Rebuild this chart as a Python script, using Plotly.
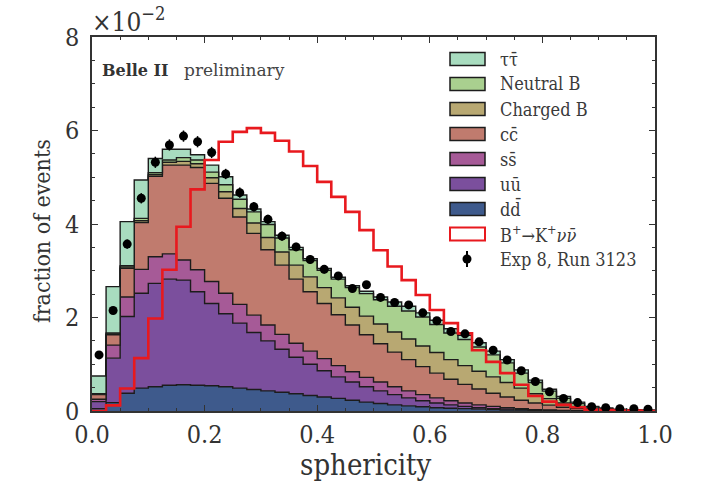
import numpy as np
import plotly.graph_objects as go

# ---- data (units of 1e-2, fraction of events per bin of width 0.025) ----
bin_edges = np.linspace(0.0, 1.0, 41)

dd = [0.05,0.18,0.38,0.49,0.52,0.55,0.56,0.55,0.54,0.52,0.49,0.46,0.43,0.40,0.37,0.33,0.30,0.27,0.23,0.19,
      0.16,0.13,0.11,0.09,0.07,0.06,0.05,0.04,0.03,0.02,0.02,0.01,0.01,0.005,0.003,0.002,0.001,0,0,0]
uu = [0.15,0.95,1.64,2.03,2.21,2.27,2.24,2.00,1.76,1.56,1.39,1.22,1.07,0.92,0.78,0.67,0.56,0.46,0.39,0.33,
      0.27,0.22,0.17,0.13,0.10,0.07,0.05,0.03,0.02,0.02,0.01,0.01,0.005,0.002,0.001,0,0,0,0,0]
ss = [0.05,0.28,0.42,0.51,0.57,0.54,0.43,0.47,0.47,0.44,0.40,0.37,0.34,0.32,0.30,0.28,0.26,0.24,0.22,0.20,
      0.19,0.17,0.15,0.13,0.11,0.09,0.07,0.06,0.05,0.03,0.02,0.01,0.01,0.004,0.002,0.001,0,0,0,0]
cc = [0.10,0.22,0.61,1.00,1.72,1.90,2.03,2.19,2.10,2.03,1.87,1.75,1.61,1.48,1.37,1.27,1.18,1.09,1.00,0.91,
      0.82,0.74,0.67,0.60,0.53,0.46,0.40,0.34,0.28,0.23,0.18,0.14,0.10,0.07,0.044,0.027,0.019,0.01,0.005,0]
charged_b = [0.01,0.02,0.03,0.04,0.04,0.06,0.08,0.08,0.12,0.14,0.18,0.22,0.26,0.28,0.30,0.32,0.34,0.36,0.38,0.40,
             0.42,0.43,0.44,0.44,0.44,0.42,0.40,0.38,0.35,0.31,0.26,0.20,0.14,0.09,0.05,0.03,0.02,0.01,0,0]
neutral_b = [0.01,0.02,0.03,0.05,0.04,0.05,0.08,0.08,0.12,0.15,0.20,0.24,0.28,0.30,0.33,0.35,0.37,0.40,0.42,0.48,
             0.52,0.55,0.60,0.62,0.60,0.57,0.56,0.52,0.47,0.42,0.32,0.24,0.16,0.10,0.06,0.03,0.02,0.01,0,0]
tautau = [0.38,0.99,0.94,0.82,0.30,0.23,0.18,0.11,0.15,0.17,0.09,0.06,0.06,0.06,0.05,0.04,0.04,0.04,0.04,0.05,
          0.06,0.09,0.10,0.09,0.09,0.09,0.09,0.09,0.08,0.07,0.07,0.05,0.04,0.04,0.03,0.01,0.00,0.01,0.025,0.02]
signal = [0.0,0.12,0.48,1.13,1.98,3.02,3.94,4.74,5.37,5.76,5.97,6.05,5.95,5.78,5.55,5.24,4.90,4.58,4.26,3.87,
          3.44,3.09,2.80,2.48,2.16,1.88,1.66,1.30,1.05,0.81,0.56,0.32,0.20,0.13,0.08,0.03,0.02,0.01,0.01,0.0]
data_y = [1.20,2.15,3.57,4.55,5.32,5.69,5.88,5.76,5.53,5.07,4.67,4.37,4.10,3.74,3.51,3.24,3.03,2.89,2.62,2.70,
          2.43,2.32,2.27,2.10,1.93,1.70,1.65,1.48,1.30,1.09,0.86,0.63,0.41,0.27,0.18,0.09,0.07,0.05,0.05,0.04]
data_err = [0.06,0.08,0.10,0.11,0.12,0.12,0.12,0.12,0.12,0.11,0.11,0.10,0.10,0.10,0.09,0.09,0.09,0.08,0.08,0.08,
            0.08,0.08,0.07,0.07,0.07,0.07,0.06,0.06,0.06,0.05,0.05,0.04,0.03,0.03,0.02,0.02,0.02,0.01,0.01,0.01]

components = [
    ("dd̄", dd, "#3e5a8c"),
    ("uū", uu, "#7b4f9d"),
    ("ss̄", ss, "#a65a97"),
    ("cc̄", cc, "#c07b6e"),
    ("Charged B", charged_b, "#b8a872"),
    ("Neutral B", neutral_b, "#a9d08f"),
    ("ττ̄", tautau, "#a8dcbf"),
]
legend_order = ["ττ̄", "Neutral B", "Charged B", "cc̄", "ss̄", "uū", "dd̄"]

FONT = "DejaVu Serif Condensed, DejaVu Serif, serif"
FONT_N = "DejaVu Serif, serif"
EDGE = "#1c1c1c"

fig = go.Figure()
x_step = list(bin_edges)
for name, vals, col in components:
    fig.add_trace(go.Scatter(
        x=x_step, y=list(vals) + [vals[-1]], mode="lines", stackgroup="bkg",
        line=dict(shape="hv", color=EDGE, width=1.4), fillcolor=col, name=name,
        showlegend=False, hoverinfo="skip"))

fig.add_trace(go.Scatter(
    x=x_step, y=list(signal) + [signal[-1]], mode="lines",
    line=dict(shape="hv", color="#e8191e", width=2.6), name="B⁺→K⁺νν̄", showlegend=False))

centers = (bin_edges[:-1] + bin_edges[1:]) / 2
fig.add_trace(go.Scatter(
    x=centers, y=data_y, mode="markers",
    marker=dict(color="black", size=9),
    error_y=dict(type="data", array=data_err, color="black", thickness=1.5, width=0),
    name="Exp 8, Run 3123", showlegend=False))

# ---- plot area in pixels ----
L, R, T, B = 92, 655, 37, 411
W, H = 705, 489
def px(x): return (x - L) / (R - L)
def py(y): return (B - y) / (B - T)

shapes = []
annotations = []
colmap = {n: c for n, _, c in components}
ys = [59, 84, 109, 134, 159, 184, 209]
for name, yc in zip(legend_order, ys):
    shapes.append(dict(type="rect", xref="paper", yref="paper",
                       x0=px(450), x1=px(485), y0=py(yc + 6.5), y1=py(yc - 6.5),
                       fillcolor=colmap[name], line=dict(color=EDGE, width=1.5)))
    annotations.append(dict(xref="paper", yref="paper", x=px(498), y=py(yc), xanchor="left",
                            yanchor="middle", text=name, showarrow=False,
                            font=dict(family=FONT, size=18, color="#3a3a3a")))
# signal legend
shapes.append(dict(type="rect", xref="paper", yref="paper",
                   x0=px(450), x1=px(485), y0=py(240.5), y1=py(227.5),
                   fillcolor="white", line=dict(color="#e8191e", width=2)))
annotations.append(dict(xref="paper", yref="paper", x=px(498), y=py(234), xanchor="left",
                        yanchor="middle", text="B<sup>+</sup>→K<sup>+</sup><i>νν̄</i>", showarrow=False,
                        font=dict(family=FONT, size=18, color="#3a3a3a")))
# data legend
shapes.append(dict(type="line", xref="paper", yref="paper", x0=px(467), x1=px(467),
                   y0=py(251), y1=py(267), line=dict(color="black", width=2)))
shapes.append(dict(type="circle", xref="paper", yref="paper", x0=px(462.5), x1=px(471.5),
                   y0=py(263.5), y1=py(254.5), fillcolor="black", line=dict(color="black", width=0)))
annotations.append(dict(xref="paper", yref="paper", x=px(498), y=py(259), xanchor="left",
                        yanchor="middle", text="Exp 8, Run 3123", showarrow=False,
                        font=dict(family=FONT, size=18, color="#3a3a3a")))

annotations += [
    dict(xref="paper", yref="paper", x=px(100), y=py(70), xanchor="left", yanchor="middle",
         text="<b>Belle II</b>", showarrow=False, font=dict(family=FONT_N, size=16, color="#333")),
    dict(xref="paper", yref="paper", x=px(182), y=py(70), xanchor="left", yanchor="middle",
         text="preliminary", showarrow=False, font=dict(family=FONT_N, size=17, color="#444")),
    dict(xref="paper", yref="paper", x=px(90), y=py(1), xanchor="left", yanchor="top",
         text="×10<sup>−2</sup>", showarrow=False, font=dict(family=FONT, size=26, color="#333")),
    dict(xref="paper", yref="paper", x=px(366), y=py(465), xanchor="center", yanchor="middle",
         text="sphericity", showarrow=False, font=dict(family=FONT, size=29, color="#333")),
    dict(xref="paper", yref="paper", x=px(42), y=py(231), xanchor="center", yanchor="middle",
         text="fraction of events", textangle=-90, showarrow=False,
         font=dict(family=FONT, size=23, color="#333")),
]

axis_common = dict(showline=True, linecolor="#333", linewidth=1.6, mirror="ticks",
                   ticks="inside", ticklen=6, tickwidth=1.2, tickcolor="#333",
                   showgrid=False, zeroline=False,
                   tickfont=dict(family=FONT, size=25, color="#333"))
fig.update_layout(
    width=W, height=H, margin=dict(l=L, r=W - R, t=T, b=H - B),
    paper_bgcolor="white", plot_bgcolor="white", showlegend=False,
    xaxis=dict(range=[0, 1], tickvals=[0, 0.2, 0.4, 0.6, 0.8, 1.0],
               ticktext=["0.0", "0.2", "0.4", "0.6", "0.8", "1.0"],
               minor=dict(dtick=0.05, ticklen=3, ticks="inside", tickcolor="#333"),
               **axis_common),
    yaxis=dict(range=[0, 8], tickvals=[0, 2, 4, 6, 8], ticklabelstandoff=6,
               minor=dict(dtick=0.5, ticklen=3, ticks="inside", tickcolor="#333"),
               **axis_common),
    shapes=shapes, annotations=annotations,
)
fig.write_html("out.html")
